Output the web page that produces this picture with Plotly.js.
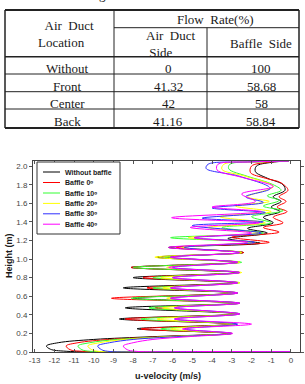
<!DOCTYPE html>
<html><head><meta charset="utf-8">
<script src="https://cdn.plot.ly/plotly-3.0.1.min.js"></script>
<style>html,body{margin:0;padding:0;background:#fff}#chart{width:305px;height:384px}</style>
</head><body><div id="chart"></div>
<script>
// ---------- table data ----------
const tableLocations = ['Without', 'Front', 'Center', 'Back'];
const ductSideRate = [0, 41.32, 42, 41.16];
const baffleSideRate = [100, 58.68, 58, 58.84];
const tableHeader = ['\u00a0\u00a0Air\u00a0 Duct<br>Location', 'Flow\u00a0 Rate(%)', 'Air\u00a0 Duct<br>\u00a0Side', 'Baffle\u00a0 Side'];

// ---------- chart data ----------
const seriesNames = ['Without baffle', 'Baffle 0\u1d52', 'Baffle 10\u1d52', 'Baffle 20\u1d52', 'Baffle 30\u1d52', 'Baffle 40\u1d52'];
const xTickVals = [-13,-12,-11,-10,-9,-8,-7,-6,-5,-4,-3,-2,-1,0];
const yTickVals = [0,0.2,0.4,0.6,0.8,1.0,1.2,1.4,1.6,1.8,2.0];

const uWithout = [0,-5,-11.4,-12.2,-12.4,-11.8,-10,-7,-3.1,-7.8,-2.8,-8.7,-2.7,-8.4,-2.7,-8.0,-2.8,-8.5,-2.8,-8.0,-2.7,-8.1,-2.7,-6.8,-2.4,-6.2,-1.55,-3.2,-1.2,-2.2,-0.9,-1.4,-0.55,-1.0,-0.5,-0.9,-0.3,-0.4,-1.2,-1.8,-1.75,-1.0,-0.1];
const hWithout = [0.003,0.004,0.008,0.03,0.065,0.1,0.135,0.165,0.2,0.25,0.30,0.355,0.41,0.475,0.525,0.58,0.635,0.69,0.745,0.80,0.855,0.91,0.965,1.02,1.07,1.125,1.17,1.22,1.28,1.33,1.39,1.45,1.51,1.56,1.62,1.67,1.74,1.8,1.87,1.94,2.0,2.04,2.055];

const uBaffle0 = [0,-5,-10.6,-11.2,-11.4,-10.8,-9.2,-6.5,-3.0,-7.6,-2.9,-8.4,-2.7,-6.9,-2.6,-9.1,-2.7,-7.3,-2.7,-7.5,-2.6,-8.1,-2.6,-6.3,-2.4,-5.8,-1.1,-3.0,-0.6,-1.4,-0.4,-0.9,-0.2,-0.7,-0.25,-0.6,-0.15,-0.5,-1.3,-2.05,-2.0,-1.2,-0.1];
const hBaffle0 = [0.003,0.005,0.008,0.025,0.065,0.1,0.135,0.165,0.2,0.248,0.30,0.355,0.41,0.475,0.525,0.578,0.635,0.69,0.745,0.80,0.855,0.91,0.965,1.02,1.07,1.125,1.18,1.235,1.29,1.34,1.39,1.45,1.51,1.56,1.62,1.67,1.74,1.82,1.87,1.93,2.0,2.04,2.055];

const uBaffle10 = [0,-5,-10.2,-10.6,-10.8,-10.2,-8.8,-6.2,-3.0,-6.6,-2.8,-7.6,-2.6,-7.2,-2.6,-8.1,-2.7,-7.0,-2.6,-7.0,-2.6,-8.0,-2.5,-6.4,-2.5,-5.5,-2.0,-6.1,-1.4,-3.5,-1.0,-2.0,-0.4,-1.4,-0.6,-1.2,-0.5,-1.0,-2.2,-3.15,-3.1,-1.5,-0.1];
const hBaffle10 = [0.003,0.005,0.008,0.025,0.065,0.1,0.135,0.165,0.2,0.248,0.30,0.355,0.41,0.475,0.525,0.578,0.635,0.69,0.745,0.80,0.855,0.91,0.965,1.02,1.07,1.125,1.18,1.23,1.28,1.34,1.39,1.455,1.52,1.57,1.63,1.68,1.74,1.81,1.89,1.97,2.02,2.045,2.055];

const uBaffle20 = [0,-5,-9.8,-10.1,-10.3,-9.7,-8.4,-6.0,-3.0,-6.1,-2.8,-6.8,-2.6,-6.5,-2.6,-6.3,-2.7,-6.5,-2.6,-6.6,-2.5,-6.3,-2.6,-6.9,-2.5,-5.5,-2.0,-5.2,-1.6,-4.2,-1.3,-3.6,-1.0,-2.8,-1.1,-2.2,-0.9,-2.3,-3.5,-3.4,-1.8,-0.1];
const hBaffle20 = [0.003,0.005,0.008,0.025,0.065,0.1,0.135,0.165,0.2,0.248,0.30,0.355,0.41,0.475,0.525,0.578,0.635,0.69,0.745,0.80,0.855,0.91,0.965,1.02,1.07,1.125,1.18,1.23,1.28,1.34,1.39,1.455,1.51,1.57,1.62,1.67,1.78,1.89,1.965,2.02,2.045,2.055];

const uBaffle30 = [0,-5,-9.3,-9.6,-9.8,-9.2,-8.0,-5.8,-3.0,-5.4,-2.7,-5.9,-2.6,-5.9,-2.6,-6.1,-2.7,-6.1,-2.7,-6.0,-2.6,-6.0,-2.7,-6.1,-2.6,-5.4,-1.85,-4.9,-1.5,-5.0,-1.4,-4.5,-1.3,-4.0,-1.4,-2.3,-1.05,-2.6,-4.3,-4.2,-2.2,-0.1];
const hBaffle30 = [0.003,0.005,0.008,0.025,0.065,0.1,0.135,0.165,0.2,0.248,0.30,0.355,0.41,0.475,0.525,0.578,0.635,0.69,0.745,0.80,0.855,0.91,0.965,1.02,1.07,1.125,1.18,1.23,1.28,1.36,1.40,1.44,1.50,1.55,1.61,1.67,1.76,1.89,1.975,2.02,2.045,2.055];

const uBaffle40 = [0,-4,-7.9,-8.3,-8.5,-8.0,-7.0,-5.2,-2.95,-5.5,-2.0,-5.9,-2.6,-5.9,-2.6,-6.1,-2.7,-6.1,-2.7,-6.0,-2.6,-6.2,-2.7,-6.1,-2.6,-6.2,-2.2,-4.9,-2.0,-5.1,-1.6,-6.05,-1.5,-4.0,-1.8,-2.5,-0.9,-2.5,-3.75,-3.7,-2.0,-0.1];
const hBaffle40 = [0.003,0.005,0.008,0.025,0.065,0.1,0.135,0.165,0.2,0.248,0.30,0.355,0.41,0.475,0.525,0.578,0.635,0.69,0.745,0.80,0.855,0.91,0.965,1.02,1.07,1.125,1.18,1.23,1.28,1.34,1.39,1.445,1.51,1.56,1.62,1.70,1.78,1.88,1.96,2.02,2.045,2.055];

const seriesU = [uWithout, uBaffle0, uBaffle10, uBaffle20, uBaffle30, uBaffle40];
const seriesH = [hWithout, hBaffle0, hBaffle10, hBaffle20, hBaffle30, hBaffle40];
const seriesColors = ['#000000', '#ff0000', '#33ff33', '#ffff00', '#3030ff', '#ff00ff'];

// ---------- layout helpers (pixel -> paper) ----------
const PL = 33, PR = 300, PT = 161, PB = 352;
const px = X => (X - PL) / (PR - PL);
const py = Y => (PB - Y) / (PB - PT);

const traces = seriesU.map((u, i) => ({
  type: 'scatter', mode: 'lines', x: u, y: seriesH[i], name: seriesNames[i],
  line: {color: seriesColors[i], width: 1, shape: 'spline', smoothing: 1},
  showlegend: false, hoverinfo: 'skip'
}));

const shapes = [];
const annotations = [];
const tl = (x0, y0, x1, y1, w) => shapes.push({type: 'line', xref: 'paper', yref: 'paper',
  x0: px(x0), y0: py(y0), x1: px(x1), y1: py(y1), line: {color: '#222', width: w}});
// table borders
const TL = 5, TR = 299, TT = 10, TB = 128;
const C1 = 114, C2 = 207;
const rowLines = [56.7, 74, 91.7, 109];
tl(TL, TT, TR, TT, 2); tl(TL, TB, TR, TB, 2);
tl(TL, TT, TL, TB, 1.5); tl(TR, TT, TR, TB, 1.5);
tl(C1, TT, C1, TB, 1); tl(C2, 27.7, C2, TB, 1);
tl(C1, 27.7, TR, 27.7, 1);
rowLines.forEach((y, k) => tl(TL, y, TR, y, k === 0 ? 1.5 : 1));

const serif = {family: 'Liberation Serif, Times New Roman, serif', size: 13, color: '#1a1a1a'};
const tAnn = (text, X, Y, extra) => annotations.push(Object.assign({
  text: text, xref: 'paper', yref: 'paper', x: px(X), y: py(Y), xanchor: 'center', yanchor: 'middle',
  showarrow: false, font: serif}, extra || {}));
tAnn(tableHeader[0], 36, 34, {xanchor: 'left', align: 'left'});
tAnn(tableHeader[1], 215, 19.5);
tAnn(tableHeader[2], 143.5, 43.5, {xanchor: 'left', align: 'left'});
tAnn(tableHeader[3], 261, 43.5);
const rowY = [68.5, 86, 103.5, 121];
tableLocations.forEach((loc, r) => {
  tAnn(loc, 67, rowY[r]);
  tAnn(String(ductSideRate[r]), 168, rowY[r]);
  tAnn(String(baffleSideRate[r]), 261, rowY[r]);
});
// caption fragment cut at the top edge
annotations.push({text: 'g', xref: 'paper', yref: 'paper', x: px(102), y: py(4), xanchor: 'center', yanchor: 'bottom',
  showarrow: false, font: serif});

// manual legend
shapes.push({type: 'rect', xref: 'paper', yref: 'paper', x0: px(37), x1: px(120), y0: py(162), y1: py(234),
  line: {color: '#333', width: 1}, fillcolor: '#fff', layer: 'above'});
const legY = [172, 182.5, 193, 203.4, 213.8, 224.2];
seriesNames.forEach((nm, i) => {
  shapes.push({type: 'line', xref: 'paper', yref: 'paper', x0: px(43), x1: px(60), y0: py(legY[i]), y1: py(legY[i]),
    line: {color: seriesColors[i], width: 1}, layer: 'above'});
  annotations.push({text: '<b>' + nm + '</b>', xref: 'paper', yref: 'paper', x: px(63), y: py(legY[i]),
    xanchor: 'left', yanchor: 'middle', showarrow: false, font: {family: 'Arial, Liberation Sans, sans-serif', size: 7, color: '#1a1a1a'}});
});
// axis titles
annotations.push({text: '<b>u-velocity (m/s)</b>', xref: 'paper', yref: 'paper', x: px(168), y: py(376),
  xanchor: 'center', yanchor: 'middle', showarrow: false, font: {family: 'Arial, Liberation Sans, sans-serif', size: 9, color: '#1a1a1a'}});
annotations.push({text: '<b>Height (m)</b>', xref: 'paper', yref: 'paper', x: px(9), y: py(256), textangle: -90,
  xanchor: 'center', yanchor: 'middle', showarrow: false, font: {family: 'Arial, Liberation Sans, sans-serif', size: 9, color: '#1a1a1a'}});

const tickFont = {family: 'Arial, Liberation Sans, sans-serif', size: 8, color: '#444'};
const layout = {
  width: 305, height: 384,
  margin: {l: PL, r: 305 - PR, t: PT, b: 384 - PB, pad: 0},
  paper_bgcolor: '#fff', plot_bgcolor: '#fff',
  showlegend: false,
  xaxis: {range: [-13.08, 0.46], tickvals: xTickVals, ticktext: xTickVals.map(String), ticks: 'inside', ticklen: 3,
    tickcolor: '#555', showline: true, linecolor: '#444', linewidth: 1, mirror: 'ticks', showgrid: false, zeroline: false,
    tickfont: tickFont, automargin: false},
  yaxis: {range: [0, 2.055], tickvals: yTickVals, ticktext: yTickVals.map(v => v.toFixed(1)), ticks: 'outside', ticklen: 3,
    tickcolor: '#555', showline: true, linecolor: '#444', linewidth: 1, mirror: 'ticks', showgrid: false, zeroline: false,
    tickfont: tickFont, automargin: false},
  shapes: shapes, annotations: annotations
};
Plotly.newPlot('chart', traces, layout, {staticPlot: true, displayModeBar: false});
</script></body></html>
